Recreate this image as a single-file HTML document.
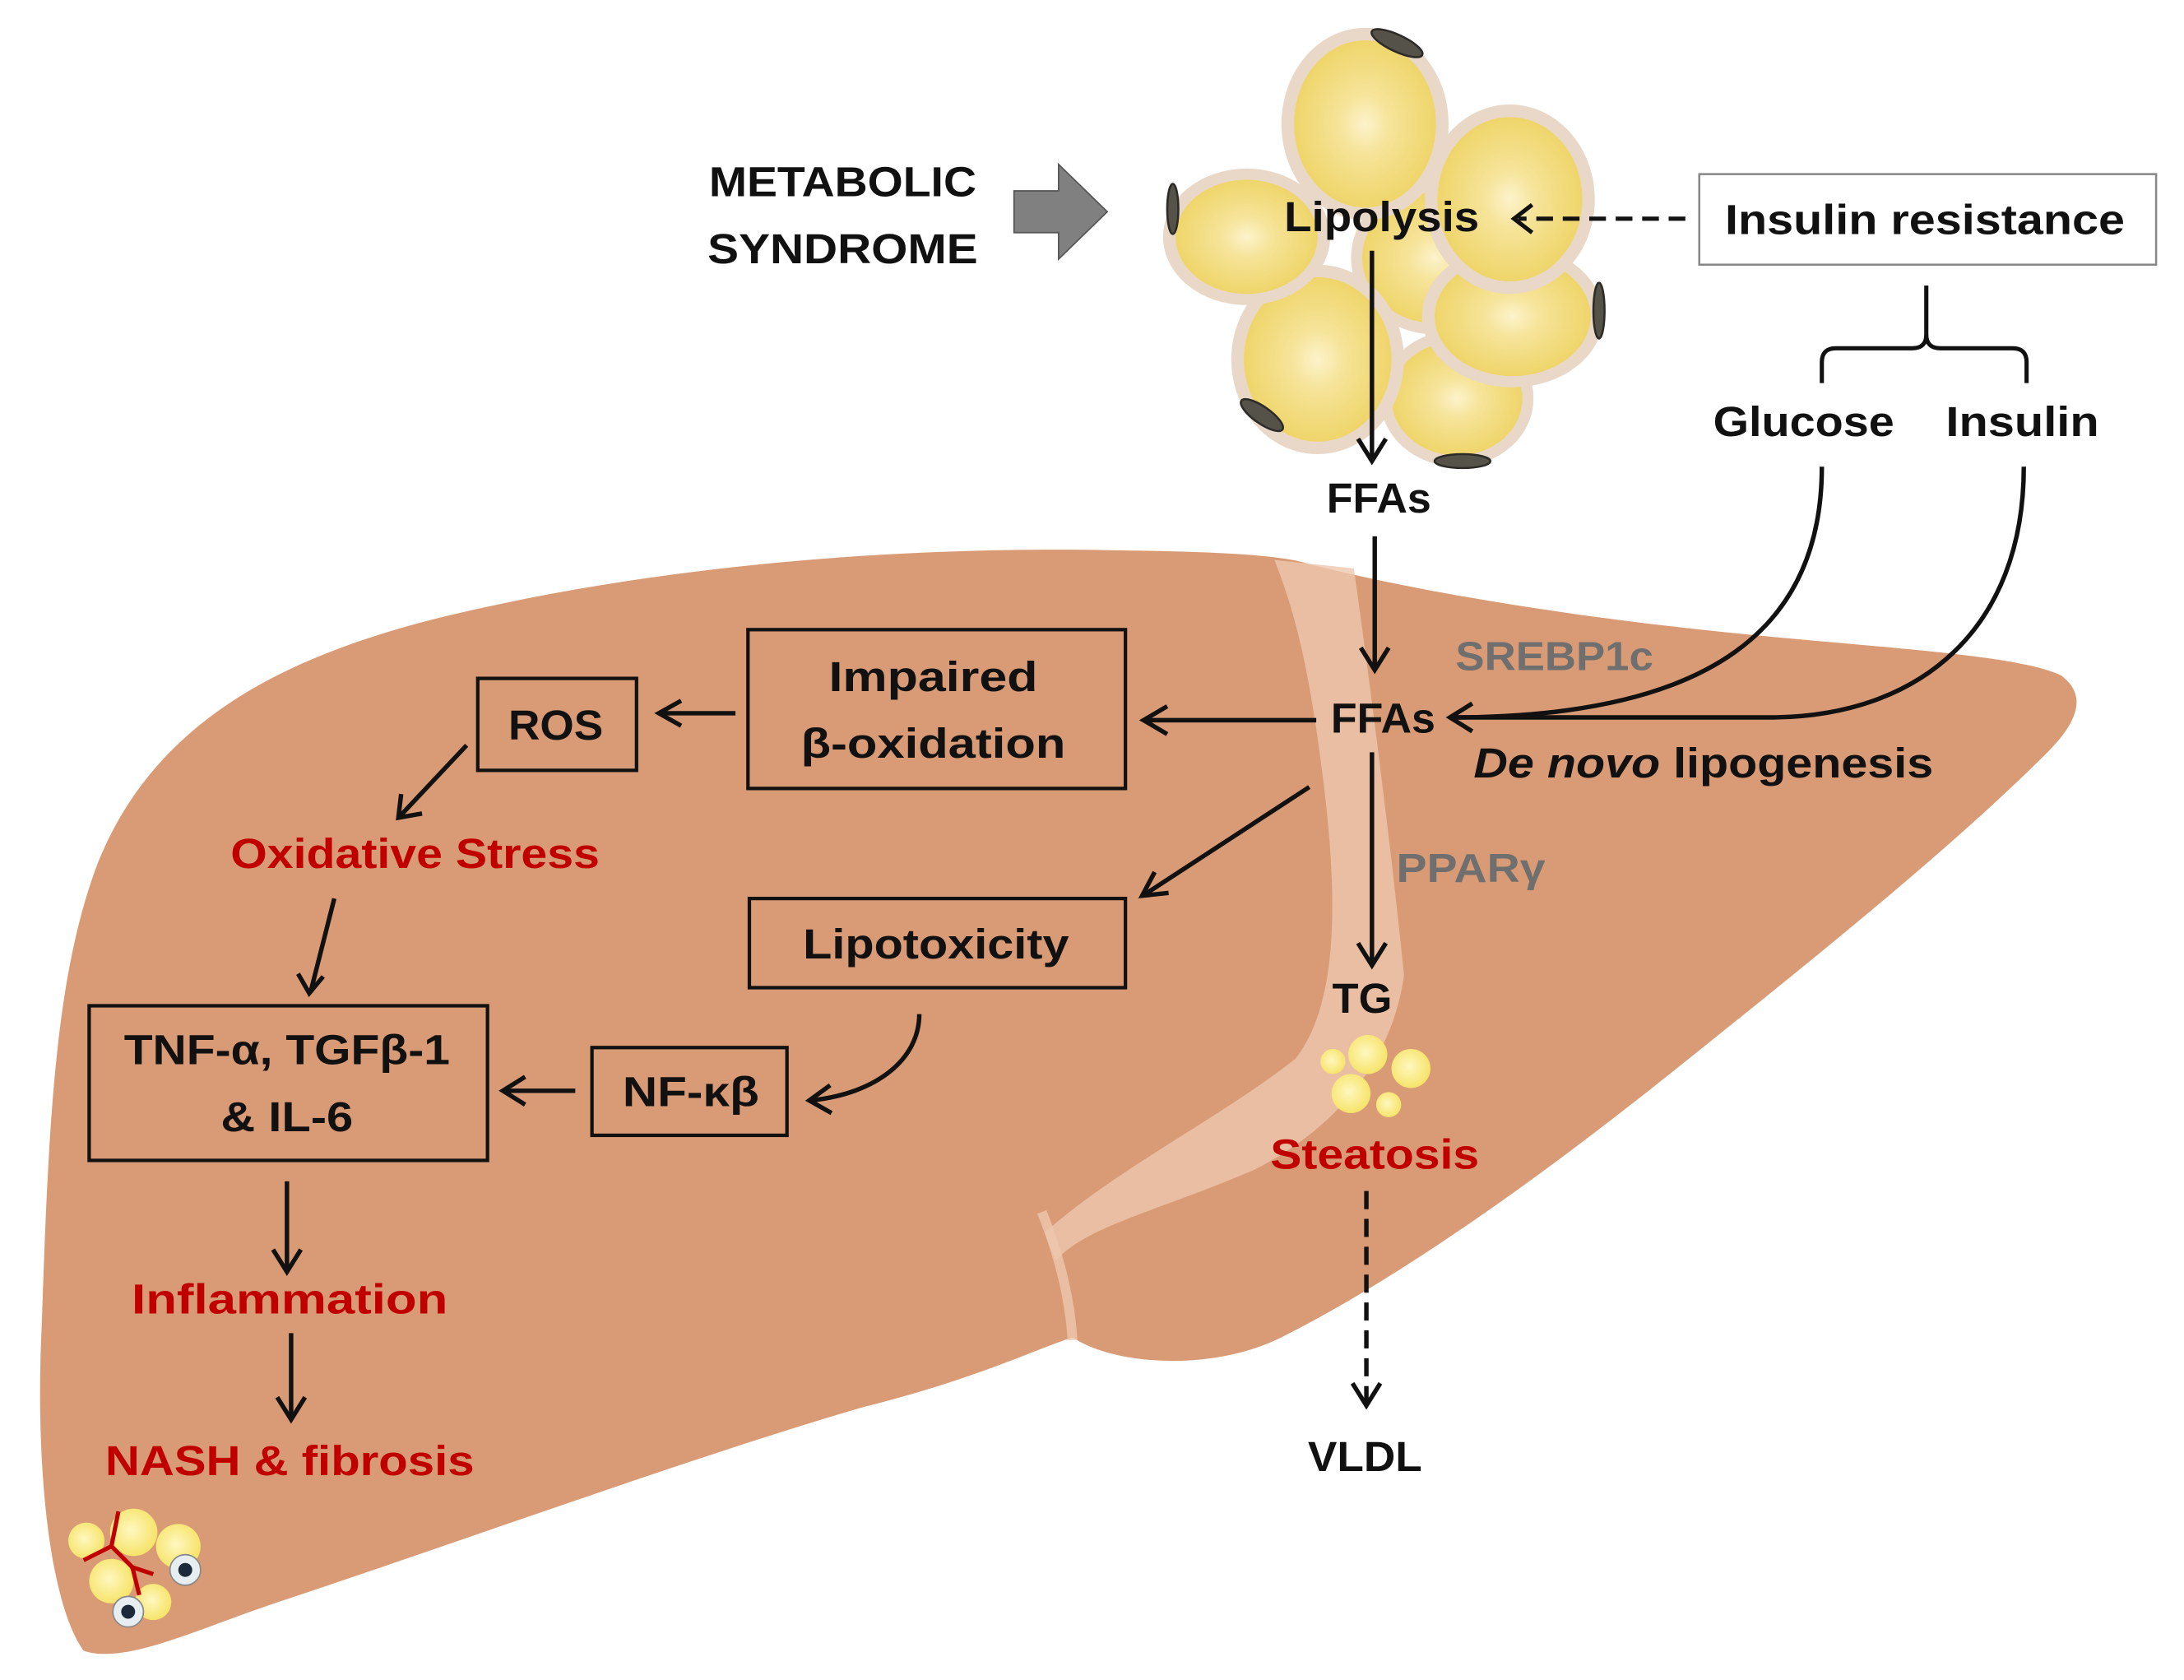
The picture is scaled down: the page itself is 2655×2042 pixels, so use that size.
<!DOCTYPE html>
<html><head><meta charset="utf-8"><style>html,body{margin:0;padding:0;background:#fff}svg{display:block}</style></head><body>
<svg width="2655" height="2042" viewBox="0 0 1568 1206" xmlns="http://www.w3.org/2000/svg" font-family="'Liberation Sans', sans-serif" font-weight="bold">
<defs>
<radialGradient id="fat" cx="0.5" cy="0.5" r="0.5"><stop offset="0" stop-color="#fdf3cc"/><stop offset="0.35" stop-color="#f6e49a"/><stop offset="1" stop-color="#efd56a"/></radialGradient>
<radialGradient id="drop" cx="0.45" cy="0.45" r="0.55"><stop offset="0" stop-color="#fff7c0"/><stop offset="1" stop-color="#f6e46a"/></radialGradient>
</defs>
<!-- liver -->
<path d="M60,1185 C35,1150 25,1050 30,950 C35,800 40,700 70,620 C110,520 200,470 330,440 C480,405 650,392 800,395 C870,396 920,398 940,405 C1000,420 1100,440 1250,455 C1350,465 1450,470 1480,485 C1500,500 1490,520 1470,540 C1400,610 1300,690 1200,770 C1100,850 1000,920 920,960 C870,985 800,980 770,960 C740,970 700,990 620,1010 C500,1045 350,1100 200,1150 C140,1170 90,1195 60,1185 Z" fill="#d99b76"/>
<path d="M915,402 L972,408 C985,500 1000,620 1008,700 C1000,760 960,810 900,840 C830,870 780,880 758,905 L750,885 C800,840 880,800 930,760 C962,720 960,640 950,560 C940,480 930,440 915,402 Z" fill="#ecc7ae" opacity="0.8"/>
<path d="M748,870 C760,900 768,930 770,962" stroke="#ecc7ae" stroke-width="7" fill="none" opacity="0.8"/>
<!-- fat cells -->
<g>
<ellipse cx="1030" cy="185" rx="60" ry="55" fill="#e9d8c8"/><ellipse cx="1030" cy="185" rx="52" ry="47" fill="url(#fat)"/>
<ellipse cx="1046" cy="286" rx="55" ry="49" fill="#e9d8c8"/><ellipse cx="1046" cy="286" rx="47" ry="41" fill="url(#fat)"/>
<ellipse cx="946" cy="258" rx="62" ry="68" fill="#e9d8c8"/><ellipse cx="946" cy="258" rx="53" ry="59" fill="url(#fat)"/>
<ellipse cx="1086" cy="227" rx="65" ry="51" fill="#e9d8c8"/><ellipse cx="1086" cy="227" rx="56" ry="43" fill="url(#fat)"/>
<ellipse cx="895" cy="170" rx="60" ry="49" fill="#e9d8c8"/><ellipse cx="895" cy="170" rx="51" ry="41" fill="url(#fat)"/>
<ellipse cx="1084" cy="143" rx="61" ry="68" fill="#e9d8c8"/><ellipse cx="1084" cy="143" rx="52" ry="59" fill="url(#fat)"/>
<ellipse cx="980" cy="89" rx="60" ry="69" fill="#e9d8c8"/><ellipse cx="980" cy="89" rx="51" ry="60" fill="url(#fat)"/>
<g fill="#55524a" stroke="#2d2b27" stroke-width="1.5">
<ellipse cx="1003" cy="31" rx="20" ry="6" transform="rotate(25 1003 31)"/>
<ellipse cx="842" cy="150" rx="4" ry="18"/>
<ellipse cx="1148" cy="223" rx="4" ry="20"/>
<ellipse cx="906" cy="298" rx="18" ry="6" transform="rotate(35 906 298)"/>
<ellipse cx="1050" cy="331" rx="20" ry="5"/>
</g>
</g>
<!-- metabolic -->
<text x="605" y="141" font-size="30" text-anchor="middle" textLength="192" lengthAdjust="spacingAndGlyphs" fill="#111">METABOLIC</text>
<text x="605" y="189" font-size="30" text-anchor="middle" textLength="194" lengthAdjust="spacingAndGlyphs" fill="#111">SYNDROME</text>
<polygon points="728,137 760,137 760,118 795,152 760,186 760,167 728,167" fill="#808080" stroke="#555" stroke-width="1"/>
<text x="992" y="166" font-size="30" text-anchor="middle" textLength="140" lengthAdjust="spacingAndGlyphs" fill="#111">Lipolysis</text>
<!-- insulin resistance -->
<rect x="1220" y="125" width="328" height="65" fill="#fff" stroke="#888" stroke-width="1.5"/>
<text x="1382" y="168" font-size="30" text-anchor="middle" textLength="287" lengthAdjust="spacingAndGlyphs" fill="#111">Insulin resistance</text>
<g stroke="#111" stroke-width="3" fill="none">
<line x1="1210" y1="157" x2="1090" y2="157" stroke-dasharray="12,7"/>
<polyline points="1100,147 1087,157 1100,167"/>
<path d="M1383,205 L1383,240 Q1383,250 1373,250 L1318,250 Q1308,250 1308,260 L1308,275 M1383,240 Q1383,250 1393,250 L1445,250 Q1455,250 1455,260 L1455,275"/>
</g>
<text x="1295" y="313" font-size="30" text-anchor="middle" textLength="130" lengthAdjust="spacingAndGlyphs" fill="#111">Glucose</text>
<text x="1452" y="313" font-size="30" text-anchor="middle" textLength="110" lengthAdjust="spacingAndGlyphs" fill="#111">Insulin</text>
<!-- arrows -->
<g stroke="#111" stroke-width="3.2" fill="none">
<line x1="985" y1="180" x2="985" y2="330"/><polyline points="975,315 985,331 995,315"/>
<line x1="987" y1="385" x2="987" y2="480"/><polyline points="977,465 987,481 997,465"/>
<path d="M1308,335 C1308,450 1230,515 1042,515"/>
<path d="M1453,335 C1453,450 1380,515 1270,515 L1042,515"/>
<polyline points="1057,505 1041,515 1057,525"/>
<line x1="945" y1="517" x2="822" y2="517"/><polyline points="838,507 821,517 838,527"/>
<line x1="528" y1="512" x2="474" y2="512"/><polyline points="489,503 473,512 489,521"/>
<line x1="335" y1="535" x2="287" y2="586"/><polyline points="288,570 286,587 303,584"/>
<line x1="240" y1="645" x2="223" y2="712"/><polyline points="214,699 222,713 232,701"/>
<line x1="940" y1="565" x2="822" y2="642"/><polyline points="829,626 820,643 839,641"/>
<path d="M660,728 C660,760 630,785 582,790"/><polyline points="596,779 581,790 597,799"/>
<line x1="413" y1="783" x2="362" y2="783"/><polyline points="377,773 361,783 377,793"/>
<line x1="206" y1="848" x2="206" y2="912"/><polyline points="196,897 206,913 216,897"/>
<line x1="209" y1="957" x2="209" y2="1018"/><polyline points="199,1003 209,1019 219,1003"/>
<line x1="985" y1="540" x2="985" y2="692"/><polyline points="975,677 985,693 995,677"/>
<line x1="981" y1="855" x2="981" y2="1008" stroke-dasharray="13,7"/><polyline points="971,993 981,1009 991,993"/>
</g>
<!-- texts -->
<text x="990" y="368" font-size="30" text-anchor="middle" textLength="75" lengthAdjust="spacingAndGlyphs" fill="#111">FFAs</text>
<text x="993" y="526" font-size="30" text-anchor="middle" textLength="75" lengthAdjust="spacingAndGlyphs" fill="#111">FFAs</text>
<text x="1116" y="481" font-size="29" text-anchor="middle" textLength="142" lengthAdjust="spacingAndGlyphs" fill="#6f6f6f">SREBP1c</text>
<text x="1058" y="558" font-size="30" textLength="330" lengthAdjust="spacingAndGlyphs" fill="#111"><tspan font-style="italic">De novo</tspan> lipogenesis</text>
<text x="1056" y="633" font-size="29" text-anchor="middle" textLength="107" lengthAdjust="spacingAndGlyphs" fill="#6f6f6f">PPARγ</text>
<text x="978" y="727" font-size="30" text-anchor="middle" textLength="43" lengthAdjust="spacingAndGlyphs" fill="#111">TG</text>
<g fill="url(#drop)"><circle cx="957" cy="762" r="9"/><circle cx="982" cy="757" r="14"/><circle cx="1013" cy="767" r="14"/><circle cx="970" cy="785" r="14"/><circle cx="997" cy="793" r="9"/></g>
<text x="987" y="839" font-size="30" text-anchor="middle" textLength="150" lengthAdjust="spacingAndGlyphs" fill="#c00000">Steatosis</text>
<text x="980" y="1056" font-size="30" text-anchor="middle" textLength="82" lengthAdjust="spacingAndGlyphs" fill="#111">VLDL</text>
<!-- boxes -->
<g fill="none" stroke="#111" stroke-width="2.5">
<rect x="537" y="452" width="271" height="114"/>
<rect x="343" y="487" width="114" height="66"/>
<rect x="538" y="645" width="270" height="64"/>
<rect x="425" y="752" width="140" height="63"/>
<rect x="64" y="722" width="286" height="111"/>
</g>
<text x="670" y="496" font-size="30" text-anchor="middle" textLength="150" lengthAdjust="spacingAndGlyphs" fill="#111">Impaired</text>
<text x="670" y="544" font-size="30" text-anchor="middle" textLength="190" lengthAdjust="spacingAndGlyphs" fill="#111">β-oxidation</text>
<text x="399" y="531" font-size="30" text-anchor="middle" textLength="68" lengthAdjust="spacingAndGlyphs" fill="#111">ROS</text>
<text x="298" y="623" font-size="30" text-anchor="middle" textLength="265" lengthAdjust="spacingAndGlyphs" fill="#c00000">Oxidative Stress</text>
<text x="672" y="688" font-size="30" text-anchor="middle" textLength="191" lengthAdjust="spacingAndGlyphs" fill="#111">Lipotoxicity</text>
<text x="496" y="794" font-size="30" text-anchor="middle" textLength="98" lengthAdjust="spacingAndGlyphs" fill="#111">NF-κβ</text>
<text x="206" y="764" font-size="30" text-anchor="middle" textLength="234" lengthAdjust="spacingAndGlyphs" fill="#111">TNF-α, TGFβ-1</text>
<text x="206" y="812" font-size="30" text-anchor="middle" textLength="95" lengthAdjust="spacingAndGlyphs" fill="#111">&amp; IL-6</text>
<text x="208" y="943" font-size="30" text-anchor="middle" textLength="227" lengthAdjust="spacingAndGlyphs" fill="#c00000">Inflammation</text>
<text x="208" y="1059" font-size="30" text-anchor="middle" textLength="265" lengthAdjust="spacingAndGlyphs" fill="#c00000">NASH &amp; fibrosis</text>
<!-- nash cluster -->
<g fill="url(#drop)"><circle cx="62" cy="1106" r="13"/><circle cx="96" cy="1100" r="17"/><circle cx="128" cy="1110" r="16"/><circle cx="80" cy="1135" r="16"/><circle cx="110" cy="1150" r="13"/></g>
<path d="M85,1085 L80,1110 L95,1125 L110,1130 M80,1110 L60,1120 M95,1125 L100,1145" stroke="#c00000" stroke-width="3" fill="none"/>
<circle cx="133" cy="1127" r="11" fill="#e6eef2" stroke="#888"/><circle cx="133" cy="1127" r="5" fill="#1b2a3a"/>
<circle cx="92" cy="1157" r="11" fill="#e6eef2" stroke="#888"/><circle cx="92" cy="1157" r="5" fill="#1b2a3a"/>
</svg>
</body></html>
